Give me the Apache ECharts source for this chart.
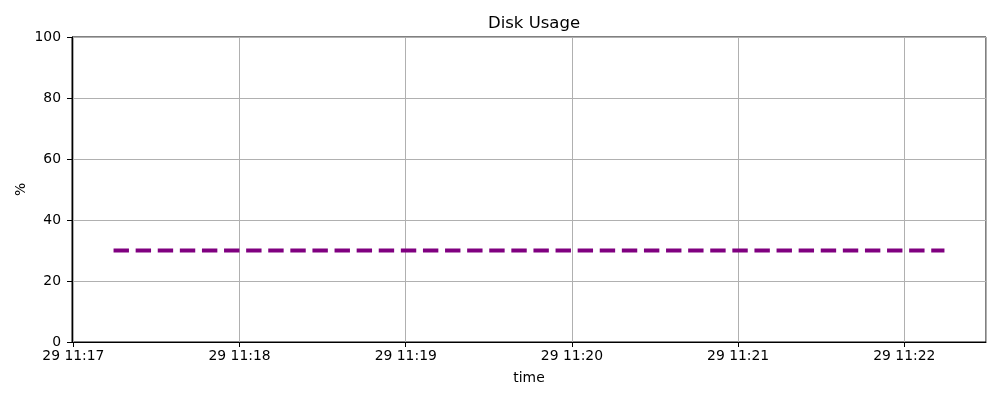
<!DOCTYPE html>
<html>
<head>
<meta charset="utf-8">
<script src="https://cdn.jsdelivr.net/npm/echarts@6/dist/echarts.min.js"></script>
<style>
    html, body { margin: 0; padding: 0; background: #fff; }
    #chartDiv { width: 1000px; height: 400px; }
</style>
</head>
<body>
<div id="chartDiv"></div>
<script>
// 数据：时间点（UTC，每15秒一次）和磁盘占用（%）
var sampleTimes = [
    "2023-05-29T11:17:14.5Z", "2023-05-29T11:17:29.5Z", "2023-05-29T11:17:44.5Z", "2023-05-29T11:17:59.5Z",
    "2023-05-29T11:18:14.5Z", "2023-05-29T11:18:29.5Z", "2023-05-29T11:18:44.5Z", "2023-05-29T11:18:59.5Z",
    "2023-05-29T11:19:14.5Z", "2023-05-29T11:19:29.5Z", "2023-05-29T11:19:44.5Z", "2023-05-29T11:19:59.5Z",
    "2023-05-29T11:20:14.5Z", "2023-05-29T11:20:29.5Z", "2023-05-29T11:20:44.5Z", "2023-05-29T11:20:59.5Z",
    "2023-05-29T11:21:14.5Z", "2023-05-29T11:21:29.5Z", "2023-05-29T11:21:44.5Z", "2023-05-29T11:21:59.5Z",
    "2023-05-29T11:22:14.5Z"
];
var diskUsage = [30, 30, 30, 30, 30, 30, 30, 30, 30, 30, 30, 30, 30, 30, 30, 30, 30, 30, 30, 30, 30];
var yTicks = [0, 20, 40, 60, 80, 100];

var xMin = Date.parse("2023-05-29T11:16:59.5Z");
var xMax = Date.parse("2023-05-29T11:22:29.5Z");
var fontName = "DejaVu Sans";

function pad2(n) {
    return (n < 10 ? "0" : "") + n;
}

// 时间标签：日 时:分
function formatTime(value) {
    var d = new Date(value);
    return pad2(d.getUTCDate()) + " " + pad2(d.getUTCHours()) + ":" + pad2(d.getUTCMinutes());
}

var seriesData = [];
for (var i = 0; i < sampleTimes.length; i++) {
    seriesData.push([Date.parse(sampleTimes[i]), diskUsage[i]]);
}

var chart = echarts.init(document.getElementById('chartDiv'), null, {renderer: 'canvas'});
var option = {
    useUTC: true,
    animation: false,
    backgroundColor: '#ffffff',
    title: {
        text: 'Disk Usage',
        left: 529,
        top: 10,
        textAlign: 'center',
        textStyle: {fontFamily: fontName, fontSize: 16.5, fontWeight: 'normal', color: '#000'}
    },
    grid: {
        left: 72,
        right: 14,
        top: 37,
        bottom: 58,
        show: true,
        borderColor: '#000',
        borderWidth: 1,
        backgroundColor: 'transparent'
    },
    xAxis: {
        type: 'time',
        min: xMin,
        max: xMax,
        minInterval: 60000,
        maxInterval: 60000,
        name: 'time',
        nameLocation: 'middle',
        nameGap: 29,
        nameMoveOverlap: false,
        nameTextStyle: {fontFamily: fontName, fontSize: 13.9, color: '#000'},
        axisLine: {show: true, lineStyle: {color: '#000', width: 1}},
        axisTick: {show: true, length: 5, lineStyle: {color: '#000', width: 1}},
        axisLabel: {
            fontFamily: fontName, fontSize: 13.9, color: '#000', margin: 7,
            showMinLabel: false, showMaxLabel: false,
            hideOverlap: false,
            formatter: formatTime
        },
        splitLine: {show: true, lineStyle: {color: '#b0b0b0', width: 1}}
    },
    yAxis: {
        type: 'value',
        min: yTicks[0],
        max: yTicks[yTicks.length - 1],
        interval: 20,
        name: '%',
        nameLocation: 'middle',
        nameRotate: 90,
        nameGap: 44,
        nameMoveOverlap: false,
        nameTextStyle: {fontFamily: fontName, fontSize: 13.9, color: '#000'},
        axisLine: {show: true, lineStyle: {color: '#000', width: 1}},
        axisTick: {show: true, length: 5, lineStyle: {color: '#000', width: 1}},
        axisLabel: {fontFamily: fontName, fontSize: 13.9, color: '#000', margin: 11},
        splitLine: {show: true, lineStyle: {color: '#b0b0b0', width: 1}}
    },
    series: [
        {
            type: 'line',
            name: 'Disk Usage',
            data: seriesData,
            showSymbol: false,
            symbol: 'none',
            lineStyle: {color: '#800080', width: 4.2, type: [15.4, 6.7], cap: 'butt'}
        }
    ]
};
chart.setOption(option);
</script>
</body>
</html>
